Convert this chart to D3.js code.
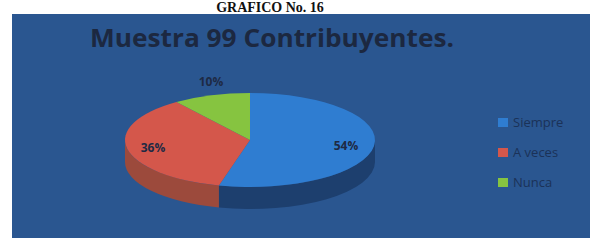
<!DOCTYPE html>
<html>
<head>
<meta charset="utf-8">
<script src="https://cdn.jsdelivr.net/npm/d3@7/dist/d3.min.js"></script>
<style>
  body { margin: 0; background: #fff; }
  svg { display: block; }
</style>
</head>
<body>
<div id="chart"></div>
<script>
const log = console.log

// data
const categories = ["Siempre", "A veces", "Nunca"]
const values = [54, 36, 10]
const labels = ["54%", "36%", "10%"]
const colors = ["#2f7dd1", "#d4574b", "#86c440"]
const sideColors = ["#1d3f6e", "#9c4a3c", "#5a8a2c"]

const W = 590, H = 241
const svg = d3.select("#chart").append("svg").attr("width", W).attr("height", H)

// page caption above the panel
svg.append("text")
    .attr("x", 270).attr("y", 12)
    .attr("text-anchor", "middle")
    .attr("font-family", "Liberation Serif")
    .attr("font-weight", "bold")
    .attr("font-size", 14)
    .attr("fill", "#111")
    .text("GRAFICO No. 16")

// panel
svg.append("rect")
    .attr("x", 12).attr("y", 14)
    .attr("width", W - 12).attr("height", 224)
    .attr("fill", "#2a5690")

svg.append("text")
    .attr("x", 272).attr("y", 47)
    .attr("text-anchor", "middle")
    .attr("font-family", "Open Sans")
    .attr("font-weight", "bold")
    .attr("font-size", 25)
    .attr("textLength", 364)
    .attr("lengthAdjust", "spacingAndGlyphs")
    .attr("fill", "#1c2840")
    .text("Muestra 99 Contribuyentes.")

// 3d pie
const cx = 250, cy = 140, rx = 125, ry = 47, depth = 22
const pt = (a, dy = 0) => [cx + rx * Math.sin(a), cy - ry * Math.cos(a) + dy]

const pie = d3.pie().sort(null).value(d => d)
const arcs = pie(values)

function topPath(d) {
    const p0 = pt(d.startAngle), p1 = pt(d.endAngle)
    const large = d.endAngle - d.startAngle > Math.PI ? 1 : 0
    return `M${cx},${cy}L${p0}A${rx},${ry} 0 ${large} 1 ${p1}Z`
}

function sidePath(d) {
    const s = Math.max(d.startAngle, Math.PI / 2)
    const e = Math.min(d.endAngle, Math.PI * 1.5)
    if (e <= s) return null
    const p0 = pt(s), p1 = pt(e), q1 = pt(e, depth), q0 = pt(s, depth)
    return `M${p0}A${rx},${ry} 0 0 1 ${p1}L${q1}A${rx},${ry} 0 0 0 ${q0}Z`
}

const g = svg.append("g")

g.selectAll("path.side")
    .data(arcs)
    .join("path")
    .attr("class", "side")
    .attr("d", d => sidePath(d))
    .attr("fill", (d, i) => sideColors[i])

g.selectAll("path.top")
    .data(arcs)
    .join("path")
    .attr("class", "top")
    .attr("d", d => topPath(d))
    .attr("fill", (d, i) => colors[i])

// labels
const labelPos = [[346, 150], [153, 152], [211, 86]]
g.selectAll("text.lbl")
    .data(arcs)
    .join("text")
    .attr("class", "lbl")
    .attr("x", (d, i) => labelPos[i][0])
    .attr("y", (d, i) => labelPos[i][1])
    .attr("text-anchor", "middle")
    .attr("font-family", "Open Sans")
    .attr("font-weight", "bold")
    .attr("font-size", 12)
    .attr("fill", "#1e2a44")
    .text((d, i) => labels[i])

// legend
const leg = svg.append("g").attr("transform", "translate(498,118)")
const item = leg.selectAll("g")
    .data(categories)
    .join("g")
    .attr("transform", (d, i) => `translate(0,${i * 30})`)
item.append("rect")
    .attr("width", 10).attr("height", 9)
    .attr("fill", (d, i) => colors[i])
item.append("text")
    .attr("x", 15).attr("y", 9)
    .attr("font-family", "Open Sans")
    .attr("font-size", 13)
    .attr("fill", "#1b3258")
    .text(d => d)
</script>
</body>
</html>
